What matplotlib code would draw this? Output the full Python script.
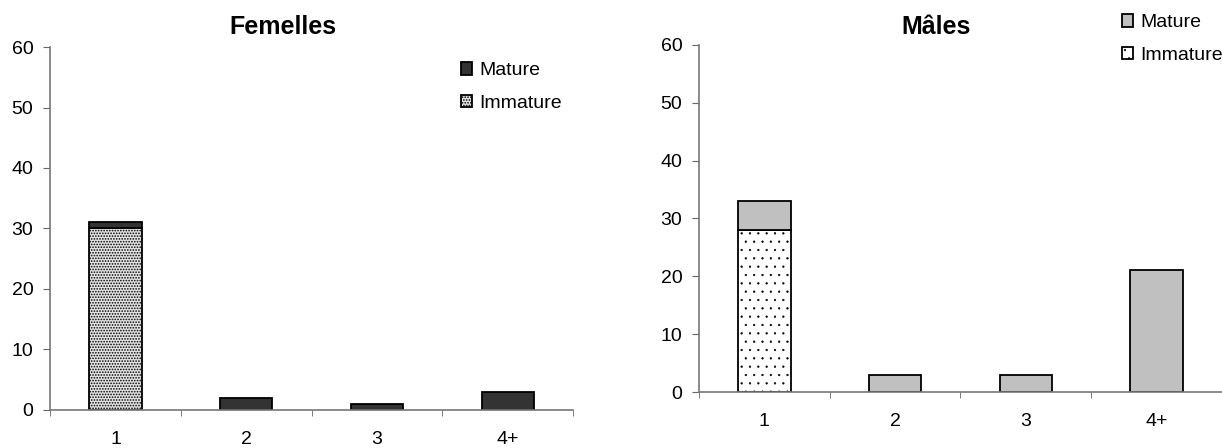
import matplotlib
matplotlib.use('Agg')
import matplotlib.pyplot as plt
import numpy as np

plt.rcParams['font.family'] = ['Liberation Sans', 'DejaVu Sans']

# age classes
categories = ['1', '2', '3', '4+']

# Femelles
fem_immature = [30, 0, 0, 0]
fem_mature = [1, 2, 1, 3]

# Males
mal_immature = [28, 0, 0, 0]
mal_mature = [5, 3, 3, 21]

fig = plt.figure(figsize=(12.22, 4.48), dpi=100)
ax1 = fig.add_axes([0.041, 0.085, 0.428, 0.81])
ax2 = fig.add_axes([0.572, 0.125, 0.428, 0.775])


def draw_panel(ax, title, title_x, immature, mature, mat_color, imm_color,
               imm_hatch, hatch_color, hatch_lw, leg_anchor):
    x = np.arange(len(categories))
    plt.rcParams['hatch.color'] = hatch_color
    plt.rcParams['hatch.linewidth'] = hatch_lw
    b_imm = ax.bar(x, immature, width=0.4, color=imm_color, edgecolor='black',
                   linewidth=1.3, hatch=imm_hatch, label='Immature')
    b_mat = ax.bar(x, mature, width=0.4, bottom=immature, color=mat_color,
                   edgecolor='black', linewidth=1.3, label='Mature')
    ax.set_xlim(-0.5, len(categories) - 0.5)
    ax.set_ylim(0, 60)
    ax.set_yticks(range(0, 61, 10))
    ax.set_xticks(x)
    ax.set_xticklabels(categories)
    ax.set_xticks(np.arange(-0.5, len(categories), 1), minor=True)
    ax.tick_params(axis='x', which='major', length=0, pad=15, labelsize=14)
    ax.tick_params(axis='x', which='minor', length=4.5, direction='out', color='#666666')
    ax.tick_params(axis='y', length=5, pad=7, direction='out', labelsize=14, color='#666666')
    for s in ['top', 'right']:
        ax.spines[s].set_visible(False)
    ax.spines['left'].set_color('#777777')
    ax.spines['bottom'].set_color('#777777')
    ax.spines['left'].set_linewidth(1.2)
    ax.spines['bottom'].set_linewidth(1.2)
    fig.text(title_x, 0.94, title, fontsize=18, fontweight='bold', ha='center', va='center')
    ax.legend([b_mat, b_imm], ['Mature', 'Immature'], frameon=False, fontsize=14,
              handlelength=0.6, handleheight=0.6, handletextpad=0.35,
              labelspacing=0.8, loc='upper left', bbox_to_anchor=leg_anchor,
              bbox_transform=fig.transFigure, borderpad=0, borderaxespad=0)


draw_panel(ax1, 'Femelles', 283 / 1222, fem_immature, fem_mature, '#333333', '#e4e4e4',
           '......', '#8a8a8a', 0.8, (0.377, 0.861))
draw_panel(ax2, 'Mâles', 936 / 1222, mal_immature, mal_mature, '#c0c0c0', 'white',
           '..', '#222222', 0.4, (0.918, 0.968))

fig.savefig('out.png', dpi=100)
